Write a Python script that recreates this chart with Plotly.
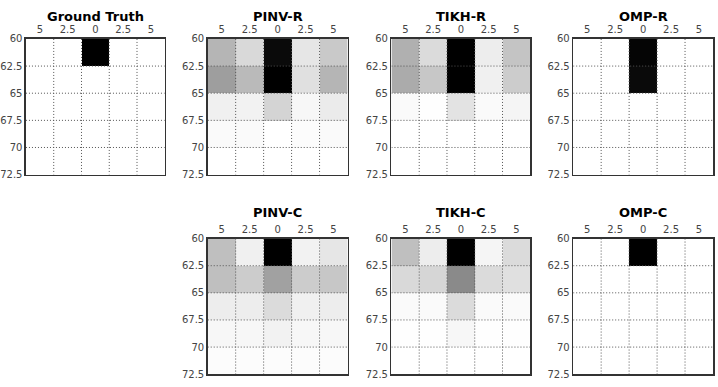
import plotly.graph_objects as go

# ---- data (gray intensity, 0 = white, 1 = black), rows top (60) to bottom (72.5)
x_labels = ["5", "2.5", "0", "2.5", "5"]
y_edges = [60, 62.5, 65, 67.5, 70, 72.5]
y_labels = ["60", "62.5", "65", "67.5", "70", "72.5"]

ground_truth = [
    [0, 0, 1, 0, 0],
    [0, 0, 0, 0, 0],
    [0, 0, 0, 0, 0],
    [0, 0, 0, 0, 0],
    [0, 0, 0, 0, 0],
]
pinv_r = [
    [0.29, 0.15, 0.96, 0.10, 0.21],
    [0.38, 0.27, 1.00, 0.12, 0.29],
    [0.06, 0.05, 0.17, 0.03, 0.08],
    [0.02, 0.02, 0.00, 0.01, 0.02],
    [0.00, 0.00, 0.00, 0.00, 0.00],
]
tikh_r = [
    [0.31, 0.14, 1.00, 0.07, 0.23],
    [0.33, 0.22, 1.00, 0.06, 0.20],
    [0.02, 0.005, 0.11, 0.02, 0.04],
    [0.00, 0.00, 0.00, 0.00, 0.00],
    [0.00, 0.00, 0.00, 0.00, 0.00],
]
omp_r = [
    [0, 0, 0.98, 0, 0],
    [0, 0, 0.96, 0, 0],
    [0, 0, 0, 0, 0],
    [0, 0, 0, 0, 0],
    [0, 0, 0, 0, 0],
]
pinv_c = [
    [0.25, 0.06, 1.00, 0.05, 0.10],
    [0.25, 0.20, 0.37, 0.20, 0.22],
    [0.07, 0.07, 0.14, 0.06, 0.07],
    [0.03, 0.03, 0.05, 0.03, 0.03],
    [0.01, 0.01, 0.01, 0.01, 0.01],
]
tikh_c = [
    [0.25, 0.07, 1.00, 0.04, 0.14],
    [0.15, 0.16, 0.46, 0.14, 0.12],
    [0.02, 0.02, 0.14, 0.02, 0.02],
    [0.005, 0.005, 0.03, 0.005, 0.005],
    [0.00, 0.00, 0.00, 0.00, 0.00],
]
omp_c = [
    [0, 0, 1, 0, 0],
    [0, 0, 0, 0, 0],
    [0, 0, 0, 0, 0],
    [0, 0, 0, 0, 0],
    [0, 0, 0, 0, 0],
]

panels = [
    ("Ground Truth", ground_truth, 0, 0),
    ("PINV-R", pinv_r, 1, 0),
    ("TIKH-R", tikh_r, 2, 0),
    ("OMP-R", omp_r, 3, 0),
    ("PINV-C", pinv_c, 1, 1),
    ("TIKH-C", tikh_c, 2, 1),
    ("OMP-C", omp_c, 3, 1),
]

W, H = 718, 387
col_px = [(25, 164), (207, 347), (391, 530), (573, 713)]
row_px = [(34, 174), (240, 380)]
title_px = [11, 213]

x_centers = list(range(len(x_labels)))
x_bounds = [i - 0.5 for i in range(len(x_labels) + 1)]
y_centers = [(y_edges[i] + y_edges[i + 1]) / 2 for i in range(len(y_edges) - 1)]

fig = go.Figure()
layout = dict(
    width=W, height=H, margin=dict(l=0, r=0, t=0, b=0),
    paper_bgcolor="white", plot_bgcolor="white",
    font=dict(family="DejaVu Sans", size=10, color="#333"),
    showlegend=False,
)
annotations = []
shapes = []
tick_font = dict(family="DejaVu Sans", size=10, color="#444")
grid_line = dict(color="#555", width=1, dash="1px,2px")

for k, (title, z, c, r) in enumerate(panels):
    n = "" if k == 0 else str(k + 1)
    xa, ya = "x" + n, "y" + n
    fig.add_trace(go.Heatmap(
        z=z, x=x_centers, y=y_centers, xaxis=xa, yaxis=ya,
        colorscale=[[0, "#ffffff"], [1, "#000000"]], zmin=0, zmax=1,
        showscale=False, xgap=0, ygap=0, hoverinfo="skip",
    ))
    x0, x1 = col_px[c]
    y0, y1 = row_px[r]
    layout["xaxis" + n] = dict(
        domain=[x0 / W, x1 / W], anchor=ya, side="top",
        range=[x_bounds[0], x_bounds[-1]],
        tickmode="array", tickvals=x_centers, ticktext=x_labels,
        showgrid=False, zeroline=False, ticks="",
        showline=True, mirror=True, linecolor="#333", linewidth=1.5,
        tickfont=tick_font, fixedrange=True,
    )
    layout["yaxis" + n] = dict(
        domain=[1 - y1 / H, 1 - y0 / H], anchor=xa,
        range=[y_edges[-1], y_edges[0]],
        tickmode="array", tickvals=y_edges, ticktext=y_labels,
        showgrid=False, zeroline=False, ticks="",
        showline=True, mirror=True, linecolor="#333", linewidth=1.5,
        tickfont=tick_font, fixedrange=True,
    )
    for xb in x_bounds[1:-1]:
        shapes.append(dict(type="line", xref=xa, yref=ya, x0=xb, x1=xb,
                           y0=y_edges[0], y1=y_edges[-1], layer="above",
                           line=grid_line))
    for yb in y_edges[1:-1]:
        shapes.append(dict(type="line", xref=xa, yref=ya, x0=x_bounds[0], x1=x_bounds[-1],
                           y0=yb, y1=yb, layer="above",
                           line=grid_line))
    annotations.append(dict(
        text="<b>" + title + "</b>", xref="paper", yref="paper",
        x=(x0 + x1) / 2 / W, y=1 - title_px[r] / H, xanchor="center", yanchor="middle",
        showarrow=False, font=dict(family="DejaVu Sans", size=13, color="black"),
    ))

layout["annotations"] = annotations
layout["shapes"] = shapes
fig.update_layout(**layout)
fig.write_html(
    "out.html",
    config={"displayModeBar": False, "staticPlot": True},
    post_script="document.body.style.margin='0';document.body.style.overflow='hidden';",
)
